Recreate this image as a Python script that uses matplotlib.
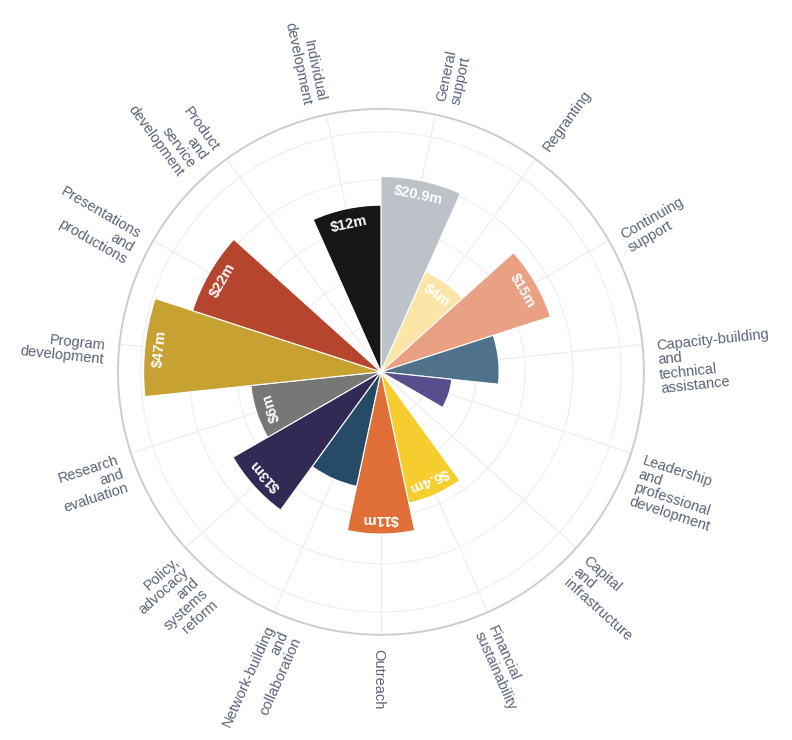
import numpy as np
import matplotlib
matplotlib.use("Agg")
import matplotlib.pyplot as plt
from matplotlib.patches import Circle

# funding by category, clockwise from 12 o'clock ($ millions)
categories = [
    "General\nsupport",
    "Regranting",
    "Continuing\nsupport",
    "Capacity-building\nand\ntechnical\nassistance",
    "Leadership\nand\nprofessional\ndevelopment",
    "Capital\nand\ninfrastructure",
    "Financial\nsustainability",
    "Outreach",
    "Network-building\nand\ncollaboration",
    "Policy,\nadvocacy\nand\nsystems\nreform",
    "Research\nand\nevaluation",
    "Program\ndevelopment",
    "Presentations\nand\nproductions",
    "Product\nand\nservice\ndevelopment",
    "Individual\ndevelopment",
]
values = [20.9, 4, 15, 4.7, 1.9, 0, 6.4, 11, 4.6, 13, 6, 47, 22, 0, 12]
value_labels = ["$20.9m", "$4m", "$15m", "", "", "", "$6.4m", "$11m", "",
                "$13m", "$6m", "$47m", "$22m", "", "$12m"]
colors = ["#bdc1c8", "#fbe5a8", "#e9a083", "#4f7189", "#574f8d", "#ffffff",
          "#f6cd2e", "#df6f37", "#274b66", "#302a55", "#777777", "#c8a133",
          "#b6452e", "#ffffff", "#161616"]

# log radial scale limits
R_MIN, R_MAX = 0.48, 77

plt.rcParams['font.family'] = ['Liberation Sans', 'DejaVu Sans']

fig = plt.figure(figsize=(7.92, 7.40), dpi=100)
ax = fig.add_axes([0.149, 0.142, 0.664, 0.711], projection='polar')
ax.set_theta_zero_location('N')
ax.set_theta_direction(-1)
ax.set_rscale('log')
ax.set_rlim(R_MIN, R_MAX)
ax.set_axisbelow(True)

n = len(categories)
width = 2 * np.pi / n
theta = np.arange(n) * width + width / 2
vals = np.array(values, dtype=float)
has_bar = vals > 0

ax.bar(theta[has_bar], vals[has_bar] - R_MIN, width=width, bottom=R_MIN,
       color=[c for c, b in zip(colors, has_bar) if b],
       edgecolor='white', linewidth=0.8, zorder=3)

# spokes at each category, faint rings
ax.set_xticks(theta)
ax.set_xticklabels([])
ax.tick_params(axis='x', length=0)
ax.xaxis.grid(True, color='#ececec', linewidth=0.8)
ax.set_yticks([])
ax.set_yticks([], minor=True)
for f in [0.183, 0.365, 0.548, 0.73, 0.913]:
    ax.add_patch(Circle((0.5, 0.5), 0.5 * f, transform=ax.transAxes,
                        fill=False, edgecolor='#eeeeee', linewidth=0.8, zorder=1))
ax.spines['polar'].set_color('#cdcdcd')
ax.spines['polar'].set_linewidth(1.4)

# dollar amounts inside the bar ends
for t, v, lab in zip(theta, vals, value_labels):
    if not lab:
        continue
    ax.annotate(lab, xy=(t, v),
                xytext=(-11 * np.sin(t), -11 * np.cos(t)), textcoords='offset points',
                rotation=-np.degrees(t), rotation_mode='anchor',
                ha='center', va='center', color='white', fontsize=10.5,
                fontweight='bold', parse_math=False, zorder=4)

# category names around the rim, hanging from the spoke direction
for t, name in zip(theta, categories):
    deg = np.degrees(t)
    phi = 90 - deg
    if deg <= 180:
        rot, ha = phi, 'left'
    else:
        rot, ha = phi + 180, 'right'
    r = np.radians(rot)
    lift = 3
    dx = 10 * np.sin(t) - lift * np.sin(r)
    dy = 10 * np.cos(t) + lift * np.cos(r)
    ax.annotate(name, xy=(t, R_MAX), xytext=(dx, dy), textcoords='offset points',
                rotation=rot, rotation_mode='anchor', ha=ha, va='top',
                multialignment=ha, linespacing=1.05, color='#5a6378',
                fontsize=10.5, annotation_clip=False)

fig.savefig('out.png', dpi=100, facecolor='white')
